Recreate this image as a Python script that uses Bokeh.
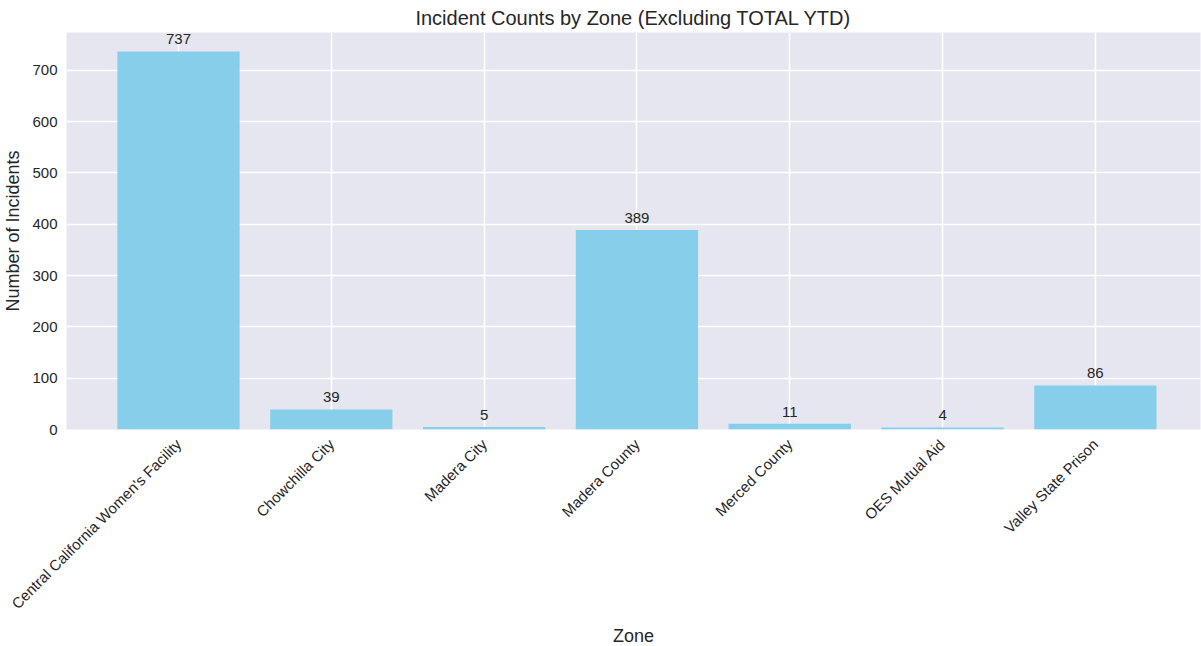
from bokeh.plotting import figure
from bokeh.models import ColumnDataSource, Range1d, FixedTicker
from bokeh.embed import file_html
from bokeh.resources import INLINE
from bokeh.core.properties import value

zones = ["Central California Women's Facility", "Chowchilla City", "Madera City",
         "Madera County", "Merced County", "OES Mutual Aid", "Valley State Prison"]
counts = [737, 39, 5, 389, 11, 4, 86]
labels = [str(c) for c in counts]
positions = list(range(len(zones)))

FONT = "Liberation Sans"
TXT = "#262626"

src = ColumnDataSource(dict(x=positions, count=counts, label=labels))

p = figure(x_range=Range1d(-0.733, 6.688), y_range=Range1d(0, 773.85),
           frame_width=1134, frame_height=397,
           min_border_left=10, min_border_right=1, min_border_top=10, min_border_bottom=0,
           output_backend="svg", toolbar_location=None,
           title="Incident Counts by Zone (Excluding TOTAL YTD)")

p.background_fill_color = "#E6E6F0"
p.border_fill_color = "white"
p.outline_line_color = None

p.title.text_font = FONT
p.title.text_font_size = "20px"
p.title.text_font_style = "normal"
p.title.text_color = TXT
p.title.align = "center"
p.title.standoff = 8

p.vbar(x="x", top="count", width=0.8, source=src, color="#87CEEB", line_color=None)
p.text(x="x", y="count", text="label", source=src, text_align="center",
       text_baseline="bottom", y_offset=-7, text_font=value(FONT),
       text_font_size="15px", text_color=TXT)

for ax in (p.xaxis[0], p.yaxis[0]):
    ax.axis_line_color = None
    ax.major_tick_line_color = None
    ax.minor_tick_line_color = None
    ax.major_tick_out = 0
    ax.major_tick_in = 0
    ax.minor_tick_out = 0
    ax.major_label_text_font = FONT
    ax.major_label_text_font_size = "15px"
    ax.major_label_text_color = TXT
    ax.axis_label_text_font = FONT
    ax.axis_label_text_font_size = "18px"
    ax.axis_label_text_font_style = "normal"
    ax.axis_label_text_color = TXT

p.xaxis.axis_label = "Zone"
p.yaxis.axis_label = "Number of Incidents"
p.xaxis.ticker = FixedTicker(ticks=positions)
p.xaxis.major_label_overrides = {i: z for i, z in zip(positions, zones)}
p.xaxis.major_label_orientation = 0.785398
p.xaxis.major_label_standoff = 12
p.xaxis.axis_label_standoff = 5
p.yaxis.major_label_standoff = 9
p.yaxis.axis_label_standoff = 6
p.yaxis.ticker = FixedTicker(ticks=[0, 100, 200, 300, 400, 500, 600, 700])

p.xgrid.grid_line_color = "white"
p.ygrid.grid_line_color = "white"
p.xgrid.grid_line_width = 1.5
p.ygrid.grid_line_width = 1.5

open("out.html", "w").write(file_html(p, INLINE))
